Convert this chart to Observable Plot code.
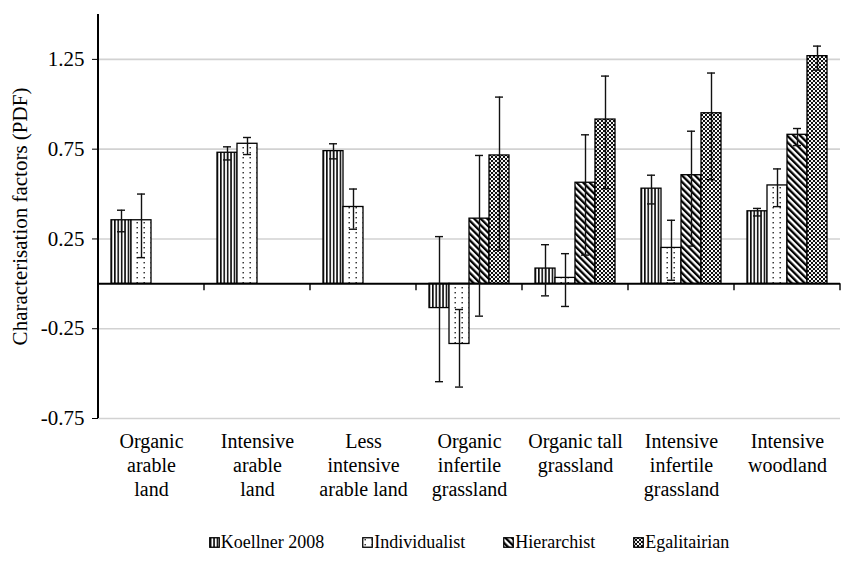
<!DOCTYPE html>
<html>
<head>
<meta charset="utf-8">
<script src="https://cdn.jsdelivr.net/npm/d3@7"></script>
<script src="https://cdn.jsdelivr.net/npm/@observablehq/plot@0.6"></script>
<style>
  html, body { margin: 0; padding: 0; background: #fff; }
  #wrap { width: 844px; font-family: "Liberation Serif", "DejaVu Serif", serif; }
  #legend { display: flex; justify-content: center; align-items: center; gap: 38px; margin-top: 12px; padding-left: 94px; font-size: 18px; color: #000; }
  #legend .item { display: flex; align-items: center; }
  #legend svg { margin-right: 1px; }
</style>
</head>
<body>
<div id="wrap">
  <div id="chart"></div>
  <div id="legend"></div>
</div>
<script>
const categories = ["Organic arable land", "Intensive arable land", "Less intensive arable land", "Organic infertile grassland", "Organic tall grassland", "Intensive infertile grassland", "Intensive woodland"];
const categoryLabels = ["Organic\narable\nland", "Intensive\narable\nland", "Less\nintensive\narable land", "Organic\ninfertile\ngrassland", "Organic tall\ngrassland", "Intensive\ninfertile\ngrassland", "Intensive\nwoodland"];
const series = ["Koellner 2008", "Individualist", "Hierarchist", "Egalitairian"];
const yTicks = [-0.75, -0.25, 0.25, 0.75, 1.25];

const koellner = [0.354, 0.73, 0.739, -0.135, 0.085, 0.53, 0.404];
const koellnerLow = [0.29, 0.69, 0.696, -0.545, -0.067, 0.445, 0.378];
const koellnerHigh = [0.41, 0.763, 0.78, 0.263, 0.218, 0.605, 0.42];

const individualist = [0.354, 0.78, 0.428, -0.335, 0.033, 0.20, 0.548];
const individualistLow = [0.146, 0.72, 0.304, -0.575, -0.126, 0.02, 0.43];
const individualistHigh = [0.50, 0.815, 0.528, -0.143, 0.168, 0.354, 0.64];

const hierarchist = [null, null, null, 0.363, 0.563, 0.605, 0.83];
const hierarchistLow = [null, null, null, -0.18, 0.16, 0.21, 0.77];
const hierarchistHigh = [null, null, null, 0.715, 0.83, 0.85, 0.865];

const egalitarian = [null, null, null, 0.715, 0.915, 0.95, 1.268];
const egalitarianLow = [null, null, null, 0.187, 0.53, 0.58, 1.19];
const egalitarianHigh = [null, null, null, 1.04, 1.157, 1.174, 1.324];

const seriesData = [
  [koellner, koellnerLow, koellnerHigh],
  [individualist, individualistLow, individualistHigh],
  [hierarchist, hierarchistLow, hierarchistHigh],
  [egalitarian, egalitarianLow, egalitarianHigh]
];

const rows = [];
series.forEach((s, si) => {
  categories.forEach((c, ci) => {
    const [v, lo, hi] = seriesData[si];
    if (v[ci] != null) rows.push({category: c, series: s, value: v[ci], low: lo[ci], high: hi[ci]});
  });
});

const patternIds = ["pat-koellner", "pat-individualist", "pat-hierarchist", "pat-egalitarian"];
const patternUrls = patternIds.map(id => `url(#${id})`);
const serifFont = "'Liberation Serif', 'DejaVu Serif', serif";

const chart = Plot.plot({
  width: 844,
  height: 520,
  marginLeft: 97,
  marginRight: 4,
  marginTop: 14,
  marginBottom: 102,
  style: {fontFamily: serifFont, fontSize: "20px", color: "#000", background: "#fff"},
  fx: {domain: categories, padding: 0, label: null},
  x: {domain: series, paddingInner: 0, paddingOuter: 0.65, axis: null},
  y: {domain: [-0.75, 1.5]},
  color: {domain: series, range: patternUrls},
  marks: [
    Plot.gridY(yTicks, {stroke: "#d2d2d2", strokeOpacity: 1, strokeWidth: 1.6}),
    Plot.barY(rows, {fx: "category", x: "series", y: "value", fill: "series", stroke: "#000", strokeWidth: 1.3}),
    Plot.ruleY([0], {stroke: "#000", strokeWidth: 2}),
    Plot.ruleX(rows, {fx: "category", x: "series", y1: "low", y2: "high", stroke: "#111", strokeWidth: 1.4}),
    Plot.tickY(rows, {fx: "category", x: "series", y: "high", insetLeft: 6, insetRight: 6, stroke: "#111", strokeWidth: 1.4}),
    Plot.tickY(rows, {fx: "category", x: "series", y: "low", insetLeft: 6, insetRight: 6, stroke: "#111", strokeWidth: 1.4}),
    Plot.axisY({ticks: yTicks, tickFormat: d => d.toFixed(2), tickSize: 6, tickPadding: 8, fontSize: 21, fontFamily: serifFont,
      label: "Characterisation factors (PDF)", labelAnchor: "center", labelArrow: "none", labelOffset: 86}),
    Plot.axisFx({anchor: "bottom", tickSize: 0, tickPadding: 12, fontSize: 20, lineHeight: 1.2, fontFamily: serifFont,
      tickFormat: d => categoryLabels[categories.indexOf(d)], label: null})
  ]
});

// pattern definitions
function addPatterns(svgSel) {
  const defs = svgSel.insert("defs", ":first-child");
  // Koellner: vertical lines
  const p1 = defs.append("pattern").attr("id", patternIds[0]).attr("patternUnits", "userSpaceOnUse").attr("width", 3.4).attr("height", 4);
  p1.append("rect").attr("width", 3.4).attr("height", 4).attr("fill", "#fff");
  p1.append("rect").attr("x", 0.9).attr("width", 1.5).attr("height", 4).attr("fill", "#000");
  // Individualist: dots
  const p2 = defs.append("pattern").attr("id", patternIds[1]).attr("patternUnits", "userSpaceOnUse").attr("width", 7).attr("height", 5);
  p2.append("rect").attr("width", 7).attr("height", 5).attr("fill", "#fff");
  p2.append("rect").attr("x", 2.5).attr("y", 2).attr("width", 1.4).attr("height", 1.4).attr("fill", "#222");
  // Hierarchist: diagonal lines "\"
  const p3 = defs.append("pattern").attr("id", patternIds[2]).attr("patternUnits", "userSpaceOnUse").attr("width", 4.6).attr("height", 4.6).attr("patternTransform", "rotate(-45)");
  p3.append("rect").attr("width", 4.6).attr("height", 4.6).attr("fill", "#fff");
  p3.append("rect").attr("x", 0).attr("width", 2.3).attr("height", 4.6).attr("fill", "#000");
  // Egalitarian: checker
  const p4 = defs.append("pattern").attr("id", patternIds[3]).attr("patternUnits", "userSpaceOnUse").attr("width", 4).attr("height", 4);
  p4.append("rect").attr("width", 4).attr("height", 4).attr("fill", "#fff");
  p4.append("rect").attr("x", 0).attr("y", 0).attr("width", 2).attr("height", 2).attr("fill", "#111");
  p4.append("rect").attr("x", 2).attr("y", 2).attr("width", 2).attr("height", 2).attr("fill", "#111");
  p4.append("rect").attr("x", 2.6).attr("y", 0.6).attr("width", 0.8).attr("height", 0.8).attr("fill", "#777");
}
const svg = d3.select(chart);
addPatterns(svg);

// y axis line and category separator ticks, positioned through the plot's scales
const ys = chart.scale("y");
const fxs = chart.scale("fx");
const y0 = ys.apply(0);
const left = fxs.apply(categories[0]);
svg.append("line").attr("x1", left).attr("x2", left)
  .attr("y1", ys.apply(1.5)).attr("y2", ys.apply(-0.75))
  .attr("stroke", "#000").attr("stroke-width", 2);
categories.forEach(c => {
  const xr = fxs.apply(c) + fxs.bandwidth;
  svg.append("line").attr("x1", xr).attr("x2", xr).attr("y1", y0).attr("y2", y0 + 7)
    .attr("stroke", "#000").attr("stroke-width", 1.4);
});

document.getElementById("chart").appendChild(chart);

// legend
const legend = d3.select("#legend");
series.forEach((s, i) => {
  const item = legend.append("div").attr("class", "item");
  const sw = item.append("svg").attr("width", 11).attr("height", 11);
  sw.append("rect").attr("x", 0.75).attr("y", 0.75).attr("width", 9.5).attr("height", 9.5)
    .attr("fill", patternUrls[i]).attr("stroke", "#000").attr("stroke-width", 1.3);
  item.append("span").text(s);
});
</script>
</body>
</html>
